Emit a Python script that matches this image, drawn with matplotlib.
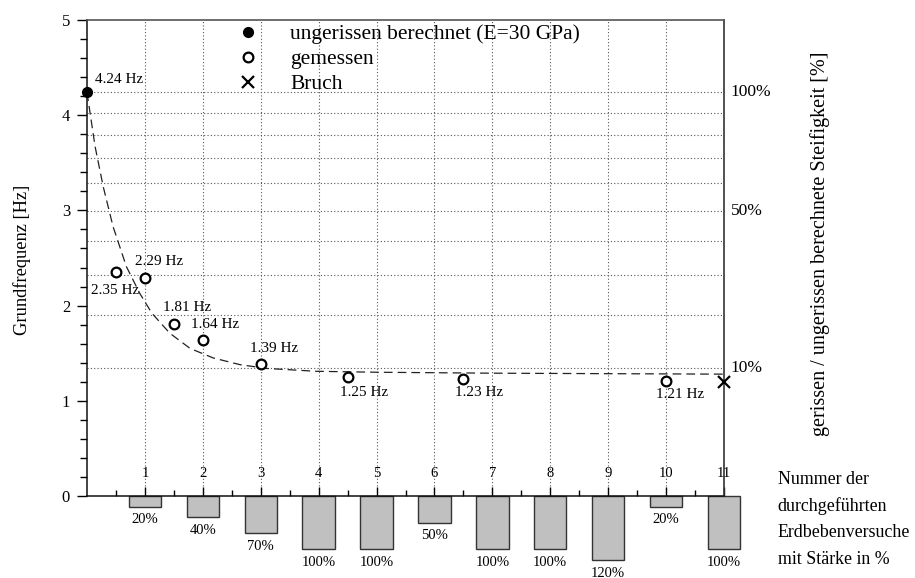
import numpy as np
import matplotlib
matplotlib.use('Agg')
import matplotlib.pyplot as plt

plt.rcParams['font.family'] = ['Liberation Serif', 'DejaVu Serif']

# calculated (uncracked) frequency
f_calc = 4.24

# measured frequencies
meas_x = [0.5, 1, 1.5, 2, 3, 4.5, 6.5, 10]
meas_f = [2.35, 2.29, 1.81, 1.64, 1.39, 1.25, 1.23, 1.21]

# failure
break_x = [11]
break_f = [1.20]

# dashed trend line
curve_x = [0, 0.14, 0.28, 0.45, 0.68, 0.91, 1.12, 1.43, 1.78, 2.18, 2.64, 3.10, 3.96, 5.0, 7.0, 9.0, 11.0]
curve_y = [4.24, 3.67, 3.25, 2.83, 2.41, 2.13, 1.92, 1.71, 1.55, 1.45, 1.38, 1.34, 1.31, 1.30, 1.29, 1.285, 1.28]

# earthquake tests and their intensity
test_no = [1, 2, 3, 4, 5, 6, 7, 8, 9, 10, 11]
intensity = [20, 40, 70, 100, 100, 50, 100, 100, 120, 20, 100]

# stiffness ratio levels (right axis)
stiff_pct = [10, 20, 30, 40, 50, 60, 70, 80, 90, 100]
stiff_labeled = [10, 50, 100]

bar_scale = 0.0056  # axis units per % intensity

fig = plt.figure(figsize=(9.15, 5.78), dpi=100)
ax = fig.add_axes([87 / 915, (578 - 567.4) / 578, 637 / 915, 547.4 / 578])
ax.set_xlim(0, 11)
ax.set_ylim(-0.75, 5)

# spines
ax.spines['left'].set_bounds(0, 5)
ax.spines['right'].set_bounds(0, 5)
ax.spines['bottom'].set_position(('data', 0))
ax.spines['bottom'].set_bounds(0, 11)
for s in ['left', 'bottom']:
    ax.spines[s].set_color('#111')
    ax.spines[s].set_linewidth(1.1)
ax.spines['top'].set_color('#555')
ax.spines['top'].set_linewidth(1.2)
ax.spines['right'].set_color('#333')
ax.spines['right'].set_linewidth(1.2)

# ticks
ax.set_yticks(range(6))
ax.set_yticks(np.arange(0, 5.01, 0.2), minor=True)
ax.tick_params(axis='y', which='major', direction='out', length=7.2, width=1, labelsize=12, pad=5)
ax.tick_params(axis='y', which='minor', direction='out', length=5, width=1)
ax.tick_params(axis='y', right=False, which='both')
ax.set_xticks(test_no)
ax.set_xticks(np.arange(0.5, 11, 1), minor=True)
ax.tick_params(axis='x', which='major', direction='in', length=6.5, width=1, labelbottom=False)
ax.tick_params(axis='x', which='minor', direction='in', length=4.3, width=1)

# grid: stiffness levels and test numbers
f_levels = [f_calc * np.sqrt(p / 100) for p in stiff_pct]
ax.hlines(f_levels, 0, 11, colors='#555', linestyles=(0, (1, 2)), lw=0.8, zorder=1)
ax.vlines(test_no, 0, 5, colors='#555', linestyles=(0, (1, 2)), lw=0.8, zorder=1)

for p in stiff_labeled:
    ax.annotate(f'{p}%', (11, f_calc * np.sqrt(p / 100)), xytext=(5, 0), textcoords='offset points',
                ha='left', va='center', fontsize=12.5, annotation_clip=False)

# bars with intensities
ax.bar(test_no, [-p * bar_scale for p in intensity], width=0.56, color='#c0c0c0',
       edgecolor='#333', linewidth=1, clip_on=False, zorder=2)
for x, p in zip(test_no, intensity):
    ax.annotate(f'{p}%', (x, -p * bar_scale), xytext=(0, -9.5), textcoords='offset points',
                ha='center', va='center', fontsize=10.5, annotation_clip=False)
    ax.annotate(str(x), (x, 0), xytext=(0, 16.5), textcoords='offset points',
                ha='center', va='center', fontsize=10.5)

# trend and points
ax.plot(curve_x, curve_y, color='#222', lw=0.9, dashes=(7, 4), zorder=3)
ax.plot([0], [f_calc], 'o', color='k', ms=7, clip_on=False, zorder=5,
        label='ungerissen berechnet (E=30 GPa)')
ax.plot(meas_x, meas_f, 'o', mfc='white', mec='k', mew=1.6, ms=7, zorder=5, label='gemessen')
ax.plot(break_x, break_f, 'x', color='k', ms=8, mew=1.6, clip_on=False, zorder=5, label='Bruch')

# value labels
lab_x = [0] + meas_x
lab_f = [f_calc] + meas_f
offsets = [(23, 9), (-1, -13), (10.5, 12), (9.5, 11.5), (9, 11), (9.5, 11), (11.5, -11.5), (11, -10), (10, -10)]
for x, f, off in zip(lab_x, lab_f, offsets):
    ax.annotate(f'{f:.2f} Hz', (x, f), xytext=off, textcoords='offset points',
                ha='center', va='center', fontsize=11)

ax.legend(loc='upper left', bbox_to_anchor=(0.2359, 0.992), frameon=False, fontsize=15.5,
          handlelength=1, handletextpad=1.45, labelspacing=0.23, borderpad=0, borderaxespad=0)

fig.text(22 / 915, 1 - 260 / 578, 'Grundfrequenz [Hz]', rotation=90, ha='center', va='center', fontsize=13.3)
fig.text(820 / 915, 1 - 243.5 / 578, 'gerissen / ungerissen berechnete Steifigkeit [%]',
         rotation=90, ha='center', va='center', fontsize=14.5)
for i, line in enumerate(['Nummer der', 'durchgeführten', 'Erdbebenversuche', 'mit Stärke in %']):
    fig.text(777.7 / 915, 1 - (479 + i * 26.7) / 578, line, ha='left', va='center', fontsize=12.9)

fig.savefig('out.png', dpi=100)
